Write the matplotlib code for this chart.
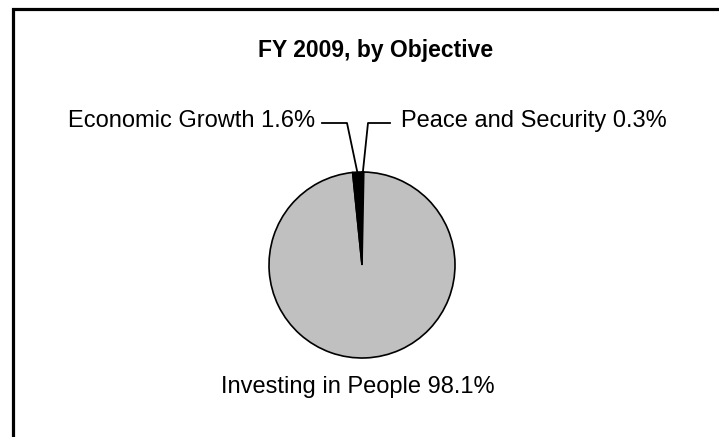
import numpy as np
import matplotlib
matplotlib.use('Agg')
import matplotlib.pyplot as plt
from matplotlib.patches import Rectangle

# Data
labels = ['Peace and Security', 'Investing in People', 'Economic Growth']
shares = [0.3, 98.1, 1.6]
colors = ['black', '#C0C0C0', 'black']
title = 'FY 2009, by Objective'

W, H = 719, 437
plt.rcParams['font.family'] = ['Liberation Sans', 'DejaVu Sans']

fig = plt.figure(figsize=(W / 100, H / 100), dpi=100)
ax = fig.add_axes([0, 0, 1, 1])

def py(y):
    # pixel row (from top) -> data y
    return H - y

cx, cy, r = 362, 265, 93
wedges, _ = ax.pie(shares, colors=colors, startangle=90, counterclock=False,
                   center=(cx, py(cy)), radius=r, frame=True,
                   wedgeprops=dict(edgecolor='black', linewidth=1.2))
ax.set_xlim(0, W)
ax.set_ylim(0, H)
ax.set_aspect('equal')
ax.axis('off')

# frame (only top and left edges are visible in the crop)
ax.add_patch(Rectangle((12.5, -20), W + 20, py(8.5) + 20, fill=False,
                       edgecolor='black', lw=2.3, joinstyle='miter'))

ax.text(375.5, py(50), title, ha='center', va='center', fontsize=16.5,
        fontweight='bold')

# label placement for the two small slices and the big one
def edge_point(w):
    ang = np.deg2rad((w.theta1 + w.theta2) / 2)
    return cx + r * np.cos(ang), py(cy) + r * np.sin(ang)

pw, iw, ew = wedges
ex, ey = edge_point(ew)
ax.plot([322, 347, ex], [py(123), py(123), ey], color='black', lw=1.3)
ax.text(315, py(121), f'{labels[2]} {shares[2]}%', ha='right', va='center',
        fontsize=17)

px_, py_ = edge_point(pw)
ax.plot([390, 368, px_], [py(123), py(123), py_], color='black', lw=1.3)
ax.text(401, py(121), f'{labels[0]} {shares[0]}%', ha='left', va='center',
        fontsize=17)

ax.text(358, py(387), f'{labels[1]} {shares[1]}%', ha='center', va='center',
        fontsize=17)

fig.savefig('out.png', dpi=100, facecolor='white')
